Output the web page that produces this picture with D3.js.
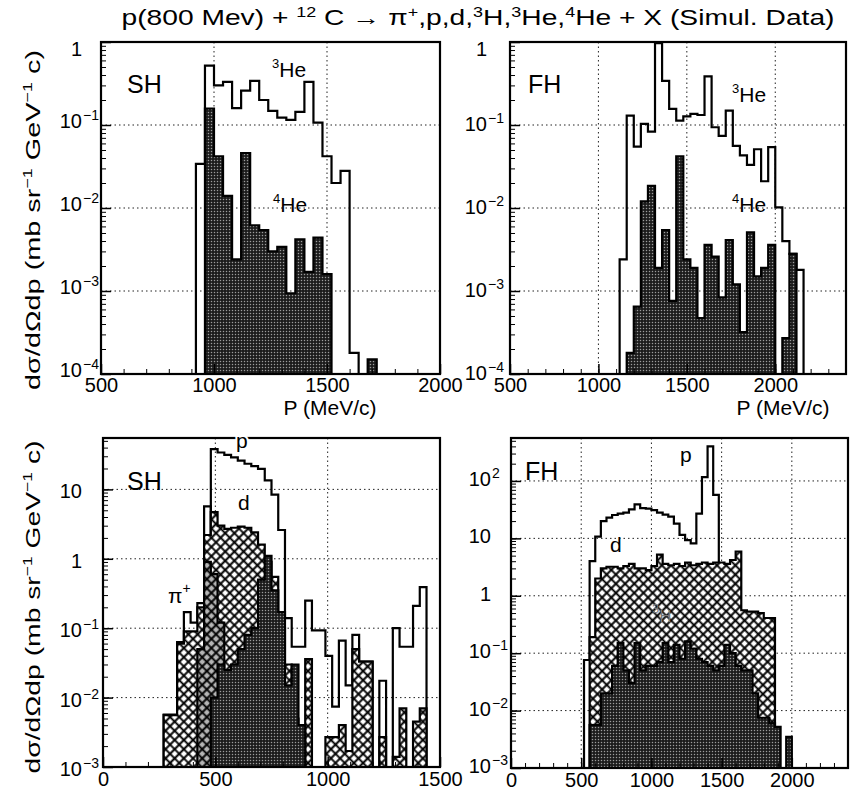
<!DOCTYPE html>
<html>
<head>
<meta charset="utf-8">
<script src="https://cdn.jsdelivr.net/npm/d3@7/dist/d3.min.js"></script>
<style>
  body { margin: 0; background: #fff; }
  text { font-family: "Liberation Sans", Arial, sans-serif; fill: #000; }
</style>
</head>
<body>
<svg id="chart" width="862" height="791"></svg>
<script>
// ---- values ----

// top-left (SH): 40 MeV/c bins
const tlStart = 920, tlWidth = 40;
const tlHe3 = [0.034, 0.52, 0.30, 0.33, 0.16, 0.26, 0.34, 0.20, 0.148, 0.123, 0.115, 0.144, 0.33, 0.107, 0.042, 0.020, 0.028, 0.00018];
const tlHe4 = [0, 0.158, 0.042, 0.014, 0.0024, 0.046, 0.0062, 0.0054, 0.0030, 0.0034, 0.00094, 0.0042, 0.0017, 0.0044, 0.0016, 0, 0, 0, 0, 0.00015];

// top-right (FH)
const trStart = 1120, trWidth = 40;
const trHe3 = [0.0024, 0.13, 0.055, 0.103, 0.083, 0.97, 0.34, 0.156, 0.113, 0.127, 0.136, 0.132, 0.385, 0.094, 0.074, 0.149, 0.056, 0.043, 0.033, 0.051, 0.021, 0.054, 0.0102, 0.0040, 0.0028, 0.0018];
const trHe4 = [0, 0.00018, 0.00065, 0.012, 0.0185, 0.0019, 0.0054, 0.00076, 0.042, 0.0024, 0.0019, 0.00047, 0.0036, 0.0026, 0.00084, 0.0041, 0.0012, 0.00032, 0.0051, 0.0015, 0.0019, 0.0036, 0, 0.00027, 0.0028, 0];

// bottom-left (SH): 30 MeV/c bins
const blWidth = 30;
const blPiStart = 270;
const blPi = [0.0057, 0.0057, 0.063, 0.17, 0.12, 0.23, 5.7];
const blPStart = 270;
const blP = [0, 0, 0, 0, 0, 0, 0, 38, 34, 31.5, 29, 26, 23.4, 21.7, 19.8, 13.5, 8.4, 2.6,
             0.14, 0.054, 0.054, 0.25, 0.093, 0.093, 0.04, 0.0074, 0.066, 0.015, 0.08, 0.033,
             0.033, 0, 0.0175, 0, 0.1, 0.054, 0.054, 0.21, 0.39, 0];
const blDStart = 270;
const blD = [0.0056, 0.0056, 0.06, 0.09, 0.09, 0.2, 2.2, 4.7, 3.0, 2.7, 2.8, 2.9, 2.8, 2.4, 1.6, 0.9,
             0.55, 0.1, 0.03, 0.005, 0, 0.036, 0, 0, 0.0027, 0.0027, 0.004, 0.0017, 0.05, 0.033,
             0.033, 0, 0.0027, 0, 0.0014, 0.007, 0, 0.0045, 0.007, 0];
const blTStart = 420;
const blT = [0.05, 0.9, 0.6, 0.12];
const blHeavyStart = 480;
const blHeavy = [0.01, 0.03, 0.025, 0.03, 0.05, 0.08, 0.1, 0.5, 1.1, 0.35, 0.17, 0.015, 0.03, 0.004];

// bottom-right (FH): 40 MeV/c bins
const brStart = 520, brWidth = 40;
const brP = [0.076, 4.0, 10.7, 20, 23, 25.5, 27, 28, 32, 39, 33.5, 33, 31, 28, 26, 24, 18, 11.5, 9.3, 8.2, 27, 117, 400, 57];
const brD = [0, 0.19, 2.0, 3.0, 3.2, 3.2, 3.0, 3.3, 3.6, 3.0, 3.0, 2.8, 3.3, 5.2, 3.6, 3.4, 3.6, 3.3, 3.8, 3.4,
             3.6, 3.8, 3.6, 3.8, 3.8, 3.6, 4.2, 5.9, 0.56, 0.53, 0.53, 0.5, 0.41, 0.41];
const brHeavy = [0, 0.0056, 0.0056, 0.02, 0.02, 0.06, 0.15, 0.05, 0.03, 0.15, 0.05, 0.06, 0.06, 0.07, 0.15, 0.07,
                 0.14, 0.08, 0.16, 0.12, 0.08, 0.07, 0.06, 0.05, 0.06, 0.14, 0.1, 0.06, 0.05, 0.05, 0.02,
                 0.0075, 0.0075, 0.006, 0.0052, 0, 0.0035];

// tick labels
const tlXTicks = [500, 1000, 1500, 2000];
const trXTicks = [500, 1000, 1500, 2000];
const blXTicks = [0, 500, 1000, 1500];
const brXTicks = [0, 500, 1000, 1500, 2000];
const topYTicks = [1, 1e-1, 1e-2, 1e-3, 1e-4];
const blYTicks = [10, 1, 1e-1, 1e-2, 1e-3];
const brYTicks = [100, 10, 1, 1e-1, 1e-2, 1e-3];

// ---- drawing ----
const svg = d3.select("#chart");
const defs = svg.append("defs");

const dots = defs.append("pattern").attr("id", "dots")
    .attr("width", 3).attr("height", 3).attr("patternUnits", "userSpaceOnUse");
dots.append("rect").attr("width", 3).attr("height", 3).attr("fill", "#1c1c1c");
dots.append("circle").attr("cx", 1.5).attr("cy", 1.5).attr("r", 0.75).attr("fill", "#9c9c9c");

function crossPattern(id, bg) {
  const pat = defs.append("pattern").attr("id", id)
      .attr("width", 6.5).attr("height", 6.5).attr("patternUnits", "userSpaceOnUse")
      .attr("patternTransform", "rotate(45)");
  pat.append("rect").attr("width", 6.5).attr("height", 6.5).attr("fill", bg);
  pat.append("path").attr("d", "M0,3.25H6.5M3.25,0V6.5").attr("stroke", "#000").attr("stroke-width", 2);
}
crossPattern("hatch", "#fff");
crossPattern("hatchgray", "#b4b4b4");

const panels = [
  { box: [101, 440, 42, 374], xd: [500, 2000], yd: [1e-4, 1], xTicks: tlXTicks, yTicks: topYTicks,
    xPad: 4, yLabX: 82, yOff: 3, name: "SH", namePos: [127, 93],
    hists: [
      { start: tlStart, width: tlWidth, vals: tlHe3, fill: null },
      { start: tlStart, width: tlWidth, vals: tlHe4, fill: "url(#dots)" }
    ],
    notes: [{ sup: "3", t: "He", x: 272, y: 77 }, { sup: "4", t: "He", x: 273, y: 212 }] },
  { box: [510, 846, 42, 374], xd: [500, 2400], yd: [1e-4, 1], xTicks: trXTicks, yTicks: topYTicks,
    xPad: 4, yLabX: 487, yOff: 6, name: "FH", namePos: [528, 93],
    hists: [
      { start: trStart, width: trWidth, vals: trHe3, fill: null },
      { start: trStart, width: trWidth, vals: trHe4, fill: "url(#dots)" }
    ],
    notes: [{ sup: "3", t: "He", x: 732, y: 102 }, { sup: "4", t: "He", x: 732, y: 212 }] },
  { box: [103, 440, 438, 767], xd: [0, 1500], yd: [1e-3, 55], xTicks: blXTicks, yTicks: blYTicks,
    xPad: 5, yLabX: 82, yOff: 9, name: "SH", namePos: [127, 490],
    hists: [
      { start: blPStart, width: blWidth, vals: blP, fill: null },
      { start: blPiStart, width: blWidth, vals: blPi, fill: null },
      { start: blDStart, width: blWidth, vals: blD, fill: "url(#hatch)" },
      { start: blTStart, width: blWidth, vals: blT, fill: "url(#hatchgray)" },
      { start: blHeavyStart, width: blWidth, vals: blHeavy, fill: "url(#dots)" }
    ],
    notes: [{ t: "p", x: 236, y: 448, halo: true }, { t: "d", x: 238, y: 510 },
            { t: "\u03c0", post: "+", x: 168, y: 603 }] },
  { box: [511, 848, 438, 768], xd: [0, 2400], yd: [1e-3, 560], xTicks: brXTicks, yTicks: brYTicks,
    xPad: 5, yLabX: 491, yOff: 5, name: "FH", namePos: [525, 480],
    hists: [
      { start: brStart, width: brWidth, vals: brP, fill: null },
      { start: brStart, width: brWidth, vals: brD, fill: "url(#hatch)" },
      { start: brStart, width: brWidth, vals: brHeavy, fill: "url(#dots)" }
    ],
    notes: [{ t: "p", x: 680, y: 462 }, { t: "d", x: 610, y: 552 },
            { sup: "3", t: "H", x: 652, y: 622, faint: true }] }
];

function histPoints(h) {
  const n = h.vals.length;
  const pts = [{ x: h.start, v: 0 }];
  h.vals.forEach((v, i) => pts.push({ x: h.start + i * h.width, v: v }));
  pts.push({ x: h.start + n * h.width, v: h.vals[n - 1] });
  pts.push({ x: h.start + n * h.width, v: 0 });
  return pts;
}

function drawPanel(p) {
  const [x0, x1, y0, y1] = p.box;
  const x = d3.scaleLinear().domain(p.xd).range([x0, x1]);
  const y = d3.scaleLog().domain(p.yd).range([y1, y0]).clamp(true);
  const g = svg.append("g");
  const yv = d => d.v > 0 ? y(d.v) : y(p.yd[0]);

  // dotted grid
  g.selectAll(".gx").data(p.xTicks.filter(v => v > p.xd[0] && v < p.xd[1])).join("line")
      .attr("x1", d => x(d)).attr("x2", d => x(d)).attr("y1", y0).attr("y2", y1)
      .attr("stroke", "#222").attr("stroke-width", 1).attr("stroke-dasharray", "1.5,3");
  g.selectAll(".gy").data(p.yTicks.filter(v => v > p.yd[0] && v < p.yd[1])).join("line")
      .attr("x1", x0).attr("x2", x1).attr("y1", d => y(d)).attr("y2", d => y(d))
      .attr("stroke", "#222").attr("stroke-width", 1).attr("stroke-dasharray", "1.5,3");

  // histograms
  p.hists.forEach(h => {
    const pts = histPoints(h);
    if (h.fill) {
      g.append("path").datum(pts)
          .attr("d", d3.area().x(d => x(d.x)).y0(y(p.yd[0])).y1(yv).curve(d3.curveStepAfter))
          .attr("fill", h.fill);
    }
    g.append("path").datum(pts)
        .attr("d", d3.line().x(d => x(d.x)).y(yv).curve(d3.curveStepAfter))
        .attr("fill", "none").attr("stroke", "#000").attr("stroke-width", 2.2)
        .attr("stroke-linejoin", "miter");
  });

  // ticks (inside the frame)
  const xMinor = d3.axisBottom(x).ticks((p.xd[1] - p.xd[0]) / 100).tickSize(-5).tickFormat("");
  const xMajor = d3.axisBottom(x).tickValues(p.xTicks).tickSize(-10).tickPadding(p.xPad).tickFormat(d3.format("d"));
  g.append("g").attr("transform", `translate(0,${y1})`).call(xMinor).select(".domain").remove();
  const xa = g.append("g").attr("transform", `translate(0,${y1})`).call(xMajor);
  xa.select(".domain").remove();
  xa.selectAll("text").attr("font-size", 20).attr("font-family", "Liberation Sans, Arial, sans-serif");
  xa.selectAll("line").attr("stroke-width", 1.5);

  const yMinor = d3.axisLeft(y).tickValues(y.ticks()).tickSize(-5).tickFormat("");
  const yMajor = d3.axisLeft(y).tickValues(p.yTicks).tickSize(-10).tickFormat("");
  g.append("g").attr("transform", `translate(${x0},0)`).call(yMinor).select(".domain").remove();
  const ya = g.append("g").attr("transform", `translate(${x0},0)`).call(yMajor);
  ya.select(".domain").remove();
  ya.selectAll("line").attr("stroke-width", 1.5);

  // y tick labels with exponents
  p.yTicks.forEach(v => {
    const e = Math.round(Math.log10(v));
    let yb = y(v) + p.yOff;
    if (y(v) < y0 + 6) yb = y0 + 14;
    g.append("text").attr("x", p.yLabX).attr("y", yb).attr("text-anchor", "end")
        .attr("font-size", 20).text(e === 0 ? "1" : "10");
    if (e !== 0 && e !== 1) {
      g.append("text").attr("x", p.yLabX + 1).attr("y", yb - 8).attr("font-size", 14)
          .text(e < 0 ? "\u2212" + (-e) : String(e));
    }
  });

  // frame
  g.append("rect").attr("x", x0).attr("y", y0).attr("width", x1 - x0).attr("height", y1 - y0)
      .attr("fill", "none").attr("stroke", "#000").attr("stroke-width", 2.2);

  // panel name
  g.append("text").attr("x", p.namePos[0]).attr("y", p.namePos[1]).attr("font-size", 25).text(p.name);

  // series labels
  p.notes.forEach(n => {
    const t = g.append("text").attr("x", n.x).attr("y", n.y).attr("font-size", 21);
    if (n.faint) t.style("fill", "#777").attr("font-size", 17);
    if (n.halo) t.attr("stroke", "#fff").attr("stroke-width", 4).attr("paint-order", "stroke");
    if (n.sup) {
      t.append("tspan").attr("font-size", 13).attr("dy", -9).text(n.sup);
      t.append("tspan").attr("dy", 9).text(n.t);
    } else {
      t.append("tspan").text(n.t);
    }
    if (n.post) t.append("tspan").attr("font-size", 14).attr("dy", -10).text(n.post);
  });

  return { x, y };
}

panels.forEach(drawPanel);

// title
const title = svg.append("text").attr("x", 478).attr("y", 25).attr("text-anchor", "middle")
    .attr("font-size", 22).attr("textLength", 713).attr("lengthAdjust", "spacingAndGlyphs");
[["p(800 Mev) + ", 0], ["12", 1], [" C \u2192 \u03c0", 0], ["+", 1], [",p,d,", 0], ["3", 1], ["H,", 0],
 ["3", 1], ["He,", 0], ["4", 1], ["He + X (Simul. Data)", 0]].forEach(([s, sup], i, arr) => {
  const prevSup = i > 0 && arr[i - 1][1];
  const tsp = title.append("tspan").text(s);
  if (sup) tsp.attr("font-size", 14).attr("dy", -8);
  else if (prevSup) tsp.attr("dy", 8);
});

// x axis titles (top row)
svg.append("text").attr("x", 330).attr("y", 415).attr("text-anchor", "middle").attr("font-size", 21).text("P (MeV/c)");
svg.append("text").attr("x", 783).attr("y", 415).attr("text-anchor", "middle").attr("font-size", 21).text("P (MeV/c)");

// y axis titles
function yTitle(cy, len) {
  const t = svg.append("text").attr("transform", `translate(40,${cy}) rotate(-90)`)
      .attr("text-anchor", "middle").attr("font-size", 21)
      .attr("textLength", len).attr("lengthAdjust", "spacingAndGlyphs");
  t.append("tspan").text("d\u03c3/d\u03a9dp (mb sr");
  t.append("tspan").attr("font-size", 13).attr("dy", -8).text("\u22121");
  t.append("tspan").attr("dy", 8).text(" GeV");
  t.append("tspan").attr("font-size", 13).attr("dy", -8).text("\u22121");
  t.append("tspan").attr("dy", 8).text(" c)");
}
yTitle(220, 340);
yTitle(607, 333);
</script>
</body>
</html>
